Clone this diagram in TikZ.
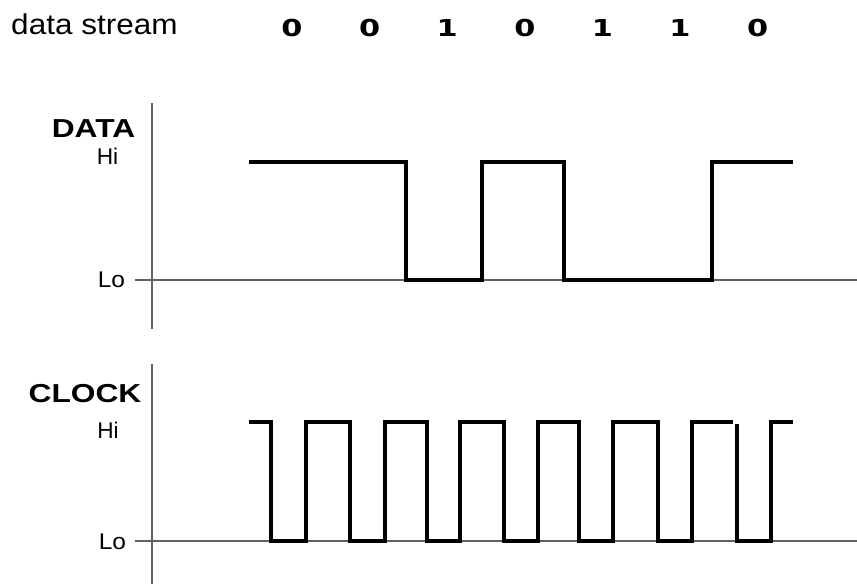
\documentclass[tikz,border=0pt]{standalone}
\usepackage{fontspec}
\setmainfont{Liberation Sans}
\newfontfamily\digitfont{DejaVu Sans}
\begin{document}
\begin{tikzpicture}[x=0.75pt,y=-0.75pt,
  axisline/.style={line width=0.8pt,draw=black!62},
  wave/.style={line width=2.4pt,line join=miter,line cap=butt},
  lbl/.style={inner sep=0pt,anchor=base,font=\fontsize{17pt}{18pt}\selectfont},
  title/.style={inner sep=0pt,anchor=base,xscale=1.22,font=\fontsize{19.5pt}{21pt}\selectfont\bfseries},
  bit/.style={inner sep=0pt,anchor=base,xscale=1.3,font=\fontsize{17.5pt}{19pt}\digitfont\bfseries}]
\useasboundingbox (0,0) rectangle (857,586);
% header
\node[inner sep=0pt,anchor=base,xscale=1.1,font=\fontsize{21.5pt}{24pt}\selectfont] (ds) at (94.5,34.3) {data stream};
\foreach \b [count=\i from 0] in {0,0,1,0,1,1,0}{
  \node[bit] (b\i) at (292+77.6*\i,36) {\b};
}
% DATA panel
\node[title] (dataT) at (93.5,137) {DATA};
\node[lbl] (dataHi) at (107.5,164) {Hi};
\node[lbl,xscale=1.08] (dataLo) at (111.5,287) {Lo};
\draw[axisline] (152,103) -- (152,329);
\draw[axisline] (135,280) -- (857,280);
\draw[wave] (249,162) -- (406,162) -- (406,280) -- (482,280) -- (482,162)
  -- (564,162) -- (564,280) -- (712,280) -- (712,162) -- (793,162);
% CLOCK panel
\node[title] (clockT) at (85,402) {CLOCK};
\node[lbl] (clockHi) at (108,438) {Hi};
\node[lbl,xscale=1.08] (clockLo) at (112.5,549) {Lo};
\draw[axisline] (152,364) -- (152,584);
\draw[axisline] (135,541) -- (857,541);
\draw[wave] (249,422) -- (271,422) -- (271,541) -- (306,541) -- (306,422)
  -- (350,422) -- (350,541) -- (385,541) -- (385,422)
  -- (427,422) -- (427,541) -- (460,541) -- (460,422)
  -- (504,422) -- (504,541) -- (538,541) -- (538,422)
  -- (579,422) -- (579,541) -- (613,541) -- (613,422)
  -- (658,422) -- (658,541) -- (692,541) -- (692,422) -- (733,422);
\draw[wave] (737,424) -- (737,541) -- (771,541) -- (771,422) -- (793,422);
\end{tikzpicture}
\end{document}
